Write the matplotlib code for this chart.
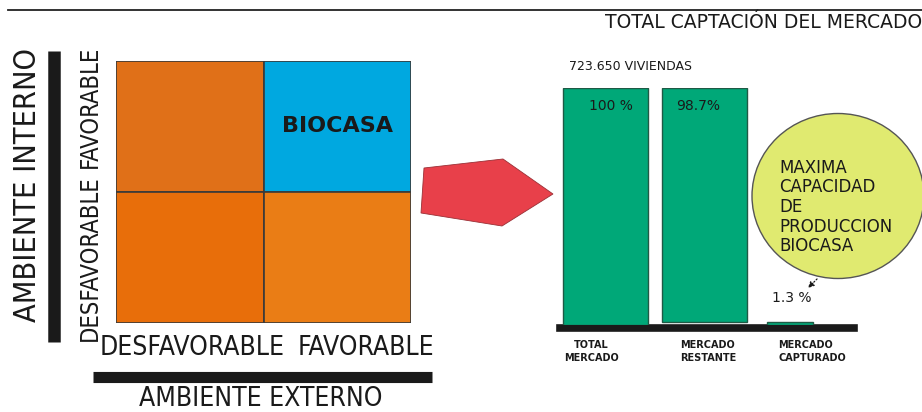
import matplotlib.pyplot as plt
from matplotlib.patches import Rectangle, Polygon, Ellipse

# market data
categories = ["TOTAL\nMERCADO", "MERCADO\nRESTANTE", "MERCADO\nCAPTURADO"]
share = [100.0, 98.7, 1.3]
share_bottom = [0.0, 1.3, 0.0]
share_labels = ["100 %", "98.7%", "1.3 %"]
total_units = "723.650 VIVIENDAS"

# matrix quadrants: (col, row) -> colour, label
quadrants = [(0, 1, "#e07018", ""), (1, 1, "#00a8e0", "BIOCASA"),
             (0, 0, "#e86e0a", ""), (1, 0, "#ea7d15", "")]
axis_levels = ["DESFAVORABLE", "FAVORABLE"]

cond = dict(family="DejaVu Sans", fontstretch="condensed", color="#1a1a1a")

fig = plt.figure(figsize=(9.22, 4.12), dpi=100)
bg = fig.add_axes([0, 0, 1, 1])
bg.set_xlim(0, 922)
bg.set_ylim(412, 0)
bg.axis("off")

# top rule
bg.plot([8, 922], [10, 10], color="#222222", lw=1.3)

# left side: matrix
axm = fig.add_axes([116 / 922, 1 - 323 / 412, 295 / 922, 262 / 412])
axm.set_xlim(0, 2)
axm.set_ylim(0, 2)
axm.axis("off")
for c, r, col, lab in quadrants:
    axm.add_patch(Rectangle((c, r), 1, 1, facecolor=col, edgecolor="#3a3a3a", lw=1.2))
    if lab:
        axm.text(c + 0.5, r + 0.5, lab, ha="center", va="center",
                 fontsize=16, fontweight="bold", color="#1a1a1a")

bg.plot([54, 54], [51, 342], color="#1a1a1a", lw=9, solid_capstyle="butt")
bg.plot([93, 432], [377, 377], color="#1a1a1a", lw=8, solid_capstyle="butt")
bg.text(28, 185, "AMBIENTE INTERNO", rotation=90, ha="center", va="center",
        fontsize=22, **cond)
bg.text(261, 406, "AMBIENTE EXTERNO", ha="center", va="baseline", fontsize=19, **cond)
bg.text(192, 348, axis_levels[0], ha="center", va="center", fontsize=19, **cond)
bg.text(366, 348, axis_levels[1], ha="center", va="center", fontsize=19, **cond)
bg.text(90, 258, axis_levels[0], rotation=90, ha="center", va="center", fontsize=17, **cond)
bg.text(90, 107, axis_levels[1], rotation=90, ha="center", va="center", fontsize=17, **cond)

# arrow shape
bg.add_patch(Polygon([(424, 168), (503, 159), (553, 194), (502, 226), (421, 213)],
                     closed=True, facecolor="#e8404a", edgecolor="#9a3036", lw=0.6))

# right side: bars
axb = fig.add_axes([560 / 922, 1 - 325 / 412, 294 / 922, 237 / 412])
bar_x = [0.0, 1.0, 1.864]
bar_w = [0.86, 0.86, 0.465]
axb.bar(bar_x, share, width=bar_w, bottom=share_bottom, color="#00a878",
        edgecolor="#1f5a45", lw=1.0, zorder=4)
axb.set_xlim(-0.46, 2.51)
axb.set_ylim(0, 100)
axb.axis("off")
axb.axhline(-1.4, color="#1a1a1a", lw=5.5, zorder=3, clip_on=False)

for i, lab in enumerate(share_labels[:2]):
    top = share[i] + share_bottom[i]
    axb.text(bar_x[i] + [0.05, -0.06][i], top - 7.6, lab, ha="center", va="center",
             fontsize=10, color="#1a1a1a", zorder=5)
axb.text(bar_x[2] + 0.02, share[2] + share_bottom[2] + 10, share_labels[2],
         ha="center", va="center", fontsize=10, color="#1a1a1a")
axb.text(0.25, 109, total_units, ha="center", va="center", fontsize=9,
         color="#1a1a1a", clip_on=False)

label_dx = [-0.14, -0.25, -0.12]
label_ha = ["center", "left", "left"]
for i, lab in enumerate(categories):
    axb.text(bar_x[i] + label_dx[i], -11.2, lab, ha=label_ha[i], va="center",
             fontsize=7, fontweight="bold", color="#1a1a1a", linespacing=1.45,
             clip_on=False)

bg.text(922, 22, "TOTAL CAPTACIÓN DEL MERCADO", ha="right", va="center",
        fontsize=13.5, color="#1a1a1a")

# callout bubble
bg.add_patch(Ellipse((838, 196), 172, 165, facecolor="#e0ea70", edgecolor="#555555", lw=1.0))
bg.text(779, 207, "MAXIMA\nCAPACIDAD\nDE\nPRODUCCION\nBIOCASA", ha="left", va="center",
        fontsize=12, color="#1a1a1a", linespacing=1.12)
bg.annotate("", xy=(806, 290), xytext=(819, 277),
            arrowprops=dict(arrowstyle="-|>", color="#1a1a1a", lw=0.9, ls=":",
                            mutation_scale=9))

fig.savefig("out.png", dpi=100, facecolor="white")
